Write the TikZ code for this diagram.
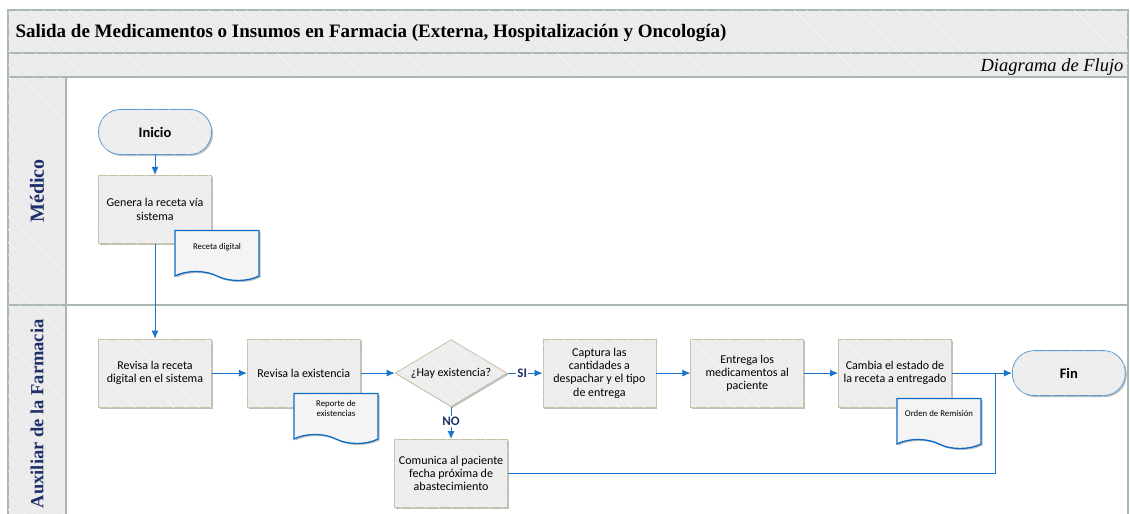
\documentclass[tikz,border=0pt]{standalone}
\usepackage{fontspec}
\setmainfont{Liberation Serif}
\newfontfamily\cajafont{Carlito}
\usetikzlibrary{positioning,shapes.geometric,shapes.symbols,arrows.meta,shadows,patterns.meta}

\definecolor{flecha}{HTML}{1874CD}
\definecolor{borde}{HTML}{C9C1A6}
\definecolor{relleno}{HTML}{EDEDED}
\definecolor{marco}{HTML}{A9B9B1}
\definecolor{fondo}{HTML}{EBEBEB}
\definecolor{azul}{HTML}{5B9BD5}
\definecolor{docazul}{HTML}{0E6CC4}
\definecolor{marino}{HTML}{1F2F6A}

\tikzset{
  rayado/.style={postaction={pattern={Lines[angle=-45, distance=9pt, line width=0.4pt]},
                 pattern color=white!60!fondo}},
  sombra/.style={drop shadow={shadow xshift=1.5pt, shadow yshift=-1.5pt,
                 fill=black, opacity=0.25}},
  proceso/.style={draw=borde, fill=relleno, line width=0.8pt, sombra, rayado,
                  minimum width=113pt, minimum height=68pt, align=center,
                  font=\cajafont\fontsize{12}{13.3}\selectfont},
  terminal/.style={draw=azul, fill=relleno, line width=0.8pt, sombra, rayado,
                   rounded corners=22pt, minimum width=113pt, minimum height=45pt,
                   font=\cajafont\bfseries\fontsize{14.5}{16}\selectfont},
  decision/.style={diamond, aspect=1.67, draw=borde, fill=relleno, line width=0.8pt,
                   sombra, rayado, inner sep=0pt, minimum width=112pt, minimum height=67pt,
                   font=\cajafont\fontsize{12}{13}\selectfont},
  documento/.style={tape, tape bend top=none, tape bend bottom=out and in,
                    tape bend height=9pt, draw=docazul, fill=relleno!60,
                    line width=1.3pt, sombra, minimum width=84pt, minimum height=50pt,
                    align=center, font=\cajafont\fontsize{8.8}{10}\selectfont},
  linea/.style={draw=flecha, line width=0.9pt},
  flujo/.style={linea, -{Latex[length=8pt,width=7pt]}},
  rama/.style={font=\cajafont\bfseries\fontsize{13}{14}\selectfont, text=marino,
               fill=white, inner sep=1pt},
  banda/.style={draw=marco, fill=fondo, line width=1.1pt, rayado},
  carril/.style={draw=marco, fill=white, line width=1.1pt},
  actor/.style={rotate=90, text=marino, font=\bfseries\fontsize{20}{22}\selectfont}
}

\begin{document}
\begin{tikzpicture}[x=1pt, y=-1pt]
  \useasboundingbox (0,0) rectangle (1130,514);
  \clip (0,0) rectangle (1130,514);

  % encabezado y carriles
  \draw[banda] (8,10) rectangle (1128,53);
  \draw[banda] (8,53) rectangle (1128,77);
  \draw[banda] (8,77) rectangle (66,305);
  \draw[carril] (66,77) rectangle (1128,305);
  \draw[banda] (8,305) rectangle (66,530);
  \draw[carril] (66,305) rectangle (1128,530);

  \node (titulo) [anchor=base west, font=\bfseries\fontsize{19}{21}\selectfont]
        at (12,37)
        {Salida de Medicamentos o Insumos en Farmacia (Externa, Hospitalización y Oncología)};
  \node (tipo) [anchor=base east, font=\itshape\fontsize{18.5}{20}\selectfont]
        at (1127,71) {Diagrama de Flujo};
  \node (medico) [actor] at (37,191) {Médico};
  \node (auxiliar) [actor, anchor=east, font=\bfseries\fontsize{18.5}{20}\selectfont]
        at (37,316) {Auxiliar de la Farmacia};

  % nodos del flujo
  \node (inicio)  [terminal] at (155,132) {Inicio};
  \node (genera)  [proceso, below=20pt of inicio] {Genera la receta vía\\sistema};
  \node (revisa)  [proceso, below=95pt of genera] {Revisa la receta\\digital en el sistema};
  \node (existe)  [proceso, right=35pt of revisa] {Revisa la existencia};
  \node (hay)     [decision, right=34pt of existe] {¿Hay existencia?};
  \node (captura) [proceso, right=35pt of hay]
                  {Captura las\\cantidades a\\despachar y el tipo\\de entrega};
  \node (entrega) [proceso, right=34pt of captura]
                  {Entrega los\\medicamentos al\\paciente};
  \node (cambia)  [proceso, right=34pt of entrega]
                  {Cambia el estado de\\la receta a entregado};
  \node (fin)     [terminal, right=60pt of cambia] {Fin};
  \node (comunica) [proceso, below=32pt of hay]
                  {Comunica al paciente\\fecha próxima de\\abastecimiento};

  % documentos
  \node (receta)  [documento] at (217,251) {Receta digital\\[-1.5pt]};
  \node (reporte) [documento] at (336,414) {Reporte de\\existencias\\[1pt]};
  \node (orden)   [documento] at (939,419) {Orden de Remisión\\[2pt]};

  \coordinate (junta) at (995,373);

  % conectores
  \draw[flujo] (inicio)  -- (genera);
  \draw[flujo] (genera)  -- (revisa);
  \draw[flujo] (revisa)  -- (existe);
  \draw[flujo] (existe)  -- (hay);
  \draw[flujo] (hay)     -- node[rama, pos=0.42] {SI} (captura);
  \draw[flujo] (hay)     -- node[rama, pos=0.45] {NO} (comunica);
  \draw[flujo] (captura) -- (entrega);
  \draw[flujo] (entrega) -- (cambia);
  \draw[flujo] (cambia)  -- (fin);
  \draw[linea] (comunica) -| (junta);
\end{tikzpicture}
\end{document}
